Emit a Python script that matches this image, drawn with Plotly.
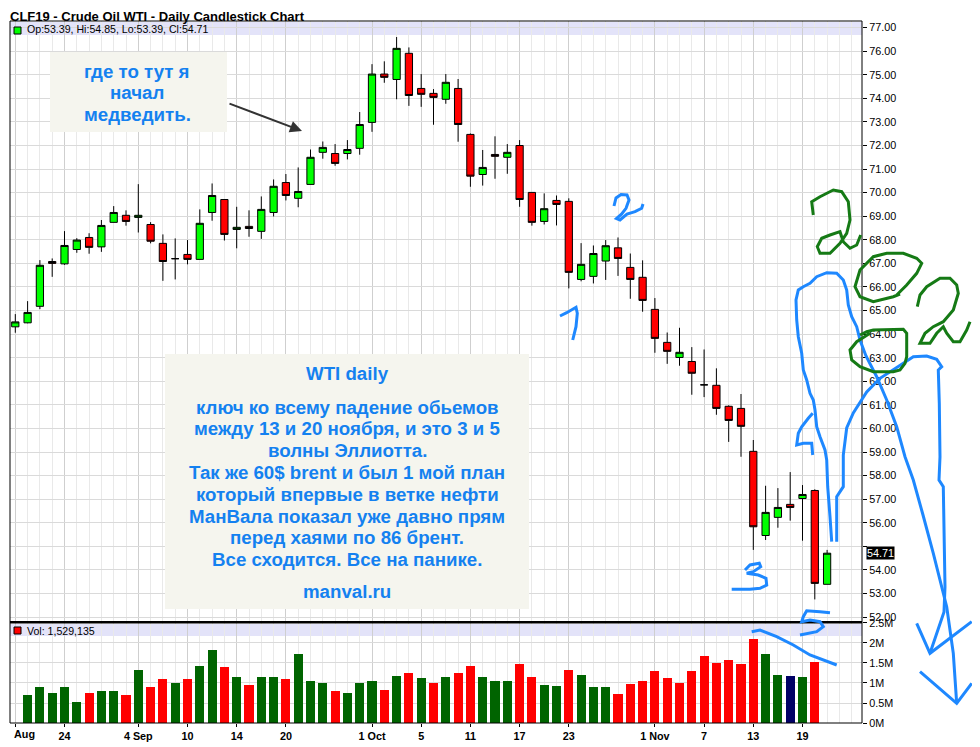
import plotly.graph_objects as go

# ---------------- DATA ----------------
dates = [
    "2018-08-20", "2018-08-21", "2018-08-22", "2018-08-23", "2018-08-24",
    "2018-08-27", "2018-08-28", "2018-08-29", "2018-08-30", "2018-08-31",
    "2018-09-04", "2018-09-05", "2018-09-06", "2018-09-07",
    "2018-09-10", "2018-09-11", "2018-09-12", "2018-09-13", "2018-09-14",
    "2018-09-17", "2018-09-18", "2018-09-19", "2018-09-20", "2018-09-21",
    "2018-09-24", "2018-09-25", "2018-09-26", "2018-09-27", "2018-09-28",
    "2018-10-01", "2018-10-02", "2018-10-03", "2018-10-04", "2018-10-05",
    "2018-10-08", "2018-10-09", "2018-10-10", "2018-10-11", "2018-10-12",
    "2018-10-15", "2018-10-16", "2018-10-17", "2018-10-18", "2018-10-19",
    "2018-10-22", "2018-10-23", "2018-10-24", "2018-10-25", "2018-10-26",
    "2018-10-29", "2018-10-30", "2018-10-31", "2018-11-01", "2018-11-02",
    "2018-11-05", "2018-11-06", "2018-11-07", "2018-11-08", "2018-11-09",
    "2018-11-12", "2018-11-13", "2018-11-14", "2018-11-15", "2018-11-16",
    "2018-11-19", "2018-11-20", "2018-11-21",
]
opens = [64.31, 64.48, 65.18, 67.08, 66.98, 67.59, 68.10, 67.70, 68.74, 69.04,
         68.95, 68.65, 67.85, 67.20, 67.38, 67.17, 69.16, 69.71, 68.44, 68.57,
         68.36, 69.16, 70.43, 69.76, 70.35, 71.71, 71.66, 71.66, 71.88, 72.98,
         75.03, 74.80, 75.91, 74.42, 74.21, 73.96, 74.42, 72.47, 70.77, 71.62,
         71.50, 72.00, 70.01, 68.78, 69.67, 69.63, 66.32, 66.45, 67.10, 67.66,
         66.83, 66.41, 65.05, 63.65, 63.01, 62.84, 61.85, 61.83, 60.94, 60.85,
         59.03, 55.46, 56.23, 56.78, 57.03, 57.37, 53.39]
highs = [64.85, 65.40, 67.14, 67.21, 68.37, 68.07, 68.28, 68.84, 69.43, 69.25,
         70.36, 68.75, 68.23, 68.06, 67.99, 69.29, 70.39, 69.71, 69.40, 69.25,
         69.84, 70.56, 70.79, 71.07, 71.83, 72.17, 72.06, 72.23, 73.42, 75.45,
         75.57, 76.60, 76.16, 75.03, 74.39, 75.03, 74.82, 72.51, 71.81, 72.39,
         72.06, 72.23, 70.01, 69.97, 69.88, 69.76, 67.86, 67.76, 67.99, 68.10,
         67.42, 67.13, 65.53, 64.07, 64.27, 63.45, 63.35, 62.55, 60.98, 61.46,
         59.51, 57.57, 57.47, 58.15, 57.60, 57.42, 54.85]
lows = [64.06, 64.46, 65.06, 66.43, 66.94, 67.45, 67.41, 67.49, 68.74, 68.60,
        68.31, 67.85, 66.26, 66.32, 66.96, 67.17, 68.81, 67.97, 67.64, 68.13,
        68.04, 68.99, 69.67, 69.38, 70.35, 71.44, 71.14, 71.41, 71.61, 72.58,
        74.66, 73.96, 73.68, 73.64, 72.88, 73.77, 72.16, 70.25, 70.30, 70.59,
        70.80, 69.40, 68.60, 68.65, 68.61, 65.94, 66.24, 66.15, 66.30, 66.47,
        65.50, 64.95, 63.21, 62.74, 62.66, 61.43, 61.33, 60.58, 59.43, 58.80,
        54.85, 55.27, 55.79, 56.09, 55.24, 52.75, 53.39]
closes = [64.52, 64.92, 66.92, 67.00, 67.76, 67.99, 67.68, 68.61, 69.16, 68.78,
          69.04, 67.94, 67.08, 67.20, 67.17, 68.70, 69.88, 68.23, 68.53, 68.48,
          69.29, 70.27, 69.88, 70.05, 71.50, 71.92, 71.24, 71.83, 72.89, 75.03,
          74.89, 76.12, 74.12, 74.17, 74.04, 74.68, 72.89, 70.70, 71.07, 71.54,
          71.71, 69.71, 68.74, 69.32, 69.50, 66.62, 66.96, 67.42, 67.75, 67.21,
          66.32, 65.43, 63.82, 63.27, 63.23, 62.34, 61.85, 60.85, 60.34, 60.09,
          55.83, 56.44, 56.65, 56.65, 57.20, 53.43, 54.71]
volumes = [None, 680000, 900000, 750000, 880000, 520000, 730000, 780000, 800000, 700000,
           1320000, 900000, 1080000, 980000, 1100000, 1410000, 1810000, 1380000, 1150000, 930000,
           1130000, 1150000, 1080000, 1710000, 1050000, 980000, 800000, 730000, 1000000, 1030000,
           820000, 1170000, 1250000, 1120000, 1000000, 1150000, 1250000, 1420000, 1150000, 1050000,
           1050000, 1470000, 1150000, 950000, 920000, 1320000, 1200000, 900000, 900000, 720000,
           970000, 1050000, 1300000, 1120000, 1000000, 1300000, 1670000, 1500000, 1570000, 1470000,
           2100000, 1720000, 1200000, 1170000, 1150000, 1529135, None]

tick_dates = ["2018-08-20", "2018-08-24", "2018-09-04", "2018-09-10", "2018-09-14",
              "2018-09-20", "2018-10-01", "2018-10-05", "2018-10-11", "2018-10-17",
              "2018-10-23", "2018-11-01", "2018-11-07", "2018-11-13", "2018-11-19"]
tick_labels = ["Aug", "24", "4 Sep", "10", "14", "20", "1 Oct", "5", "11", "17",
               "23", "1 Nov", "7", "13", "19"]
price_ticks = [52, 53, 54, 55, 56, 57, 58, 59, 60, 61, 62, 63, 64, 65, 66, 67, 68,
               69, 70, 71, 72, 73, 74, 75, 76, 77]
vol_tick_values = [0, 500000, 1000000, 1500000, 2000000, 2500000]
vol_tick_labels = ["0M", "0.5M", "1M", "1.5M", "2M", "2.5M"]

title_text = "CLF19 - Crude Oil WTI - Daily Candlestick Chart"
note1_lines = ["где то тут я", "начал", "медведить."]
note2_head = "WTI daily"
note2_lines = ["ключ ко всему падение обьемов",
               "между 13 и 20 ноября, и это 3 и 5",
               "волны Эллиотта.",
               "Так же 60$ brent и был 1 мой план",
               "который впервые в ветке нефти",
               "МанВала показал уже давно прям",
               "перед хаями по 86 брент.",
               "Все сходится. Все на панике."]
note2_foot = "manval.ru"

# ---------------- LAYOUT GEOMETRY ----------------
BODY = 8                      # default page margin around the figure
X0, Y0, PW, PH = 10, 21, 852, 702   # plot area in page pixels
W, H = 980 - BODY, 747 - BODY
ML, MT = X0 - BODY, Y0 - BODY
MR, MB = W - ML - PW, H - MT - PH
FONT = "Liberation Sans, Arial, sans-serif"


def px(x):
    return (x - X0) / PW


def py(y):
    return 1 - (y - Y0) / PH


split = py(622.3)
xs = list(range(len(dates)))
tickvals = [dates.index(d) for d in tick_dates]
ticktext = ["" if lab == "Aug" else lab for lab in tick_labels]
last_close = closes[-1]
# the last-price tag hides the neighbouring price label, as in the original
price_ticktext = ["" if abs(v - last_close) < 0.5 else f"{v:.2f}" for v in price_ticks]

GREEN_UP = "#00ff00"
RED_DN = "#ff0000"
VOL_UP = "#006400"
VOL_DN = "#ff0000"
VOL_EQ = "#000066"
vol_colors = []
for i, c in enumerate(closes):
    if i == 0 or c > closes[i - 1]:
        vol_colors.append(VOL_UP)
    elif c < closes[i - 1]:
        vol_colors.append(VOL_DN)
    else:
        vol_colors.append(VOL_EQ)

fig = go.Figure()
fig.add_trace(go.Candlestick(
    x=xs, open=opens, high=highs, low=lows, close=closes,
    xaxis="x2", yaxis="y",
    increasing=dict(fillcolor=GREEN_UP, line=dict(color="black", width=1)),
    decreasing=dict(fillcolor=RED_DN, line=dict(color="black", width=1)),
    whiskerwidth=0, hoverinfo="skip", showlegend=False,
))
fig.add_trace(go.Bar(
    x=xs, y=volumes, xaxis="x", yaxis="y2", width=0.74,
    marker=dict(color=vol_colors, line=dict(width=0)),
    hoverinfo="skip", showlegend=False,
))

xr = [(X0 - 15.3) / 12.3, (X0 + PW - 15.3) / 12.3]
common_x = dict(
    range=xr, tickmode="array", tickvals=tickvals, showgrid=True,
    gridcolor="#cfcfcf", gridwidth=1, zeroline=False,
    minor=dict(tickmode="linear", tick0=0, dtick=1, showgrid=True,
               gridcolor="#e9e9e9", gridwidth=1),
    rangeslider=dict(visible=False), fixedrange=True,
)
fig.update_layout(
    width=W, height=H,
    margin=dict(l=ML, r=MR, t=MT, b=MB),
    paper_bgcolor="white", plot_bgcolor="white",
    boxgap=0.16, bargap=0,
    showlegend=False,
    xaxis=dict(anchor="y2", domain=[0, 1], ticktext=ticktext, ticks="outside",
               ticklen=3, tickcolor="black",
               tickfont=dict(family=FONT, size=10.8, color="black", weight="bold"),
               **common_x),
    xaxis2=dict(anchor="y", domain=[0, 1], matches="x", showticklabels=False,
                ticks="", **common_x),
    yaxis=dict(anchor="x2", domain=[split, 1], side="right",
               range=[77 - (622.3 - 27.6) / 23.58, 77 + (27.6 - Y0) / 23.58],
               tickmode="array", tickvals=price_ticks, ticktext=price_ticktext,
               ticks="outside", ticklen=4, tickcolor="black",
               tickfont=dict(family=FONT, size=10.8, color="black"),
               showgrid=True, gridcolor="#dadada", zeroline=False, fixedrange=True),
    yaxis2=dict(anchor="x", domain=[0, split], side="right",
                range=[0, 2517000], tickmode="array", tickvals=vol_tick_values,
                ticktext=vol_tick_labels, ticks="outside", ticklen=4, tickcolor="black",
                tickfont=dict(family=FONT, size=10.8, color="black"),
                showgrid=True, gridcolor="#dadada", zeroline=False, fixedrange=True),
)

shapes = []
# header bands
shapes.append(dict(type="rect", xref="paper", yref="paper", x0=0, x1=px(862),
                   y0=py(35), y1=py(22), fillcolor="#e3e3f9", line=dict(width=0), layer="below"))
shapes.append(dict(type="rect", xref="paper", yref="paper", x0=0, x1=px(862),
                   y0=py(636), y1=py(624), fillcolor="#e3e3f9", line=dict(width=0), layer="below"))
# legend squares
shapes.append(dict(type="rect", xref="paper", yref="paper", x0=px(14), x1=px(21),
                   y0=py(34), y1=py(27), fillcolor=GREEN_UP, line=dict(color="black", width=1)))
shapes.append(dict(type="rect", xref="paper", yref="paper", x0=px(14), x1=px(21),
                   y0=py(634), y1=py(627), fillcolor=RED_DN, line=dict(color="black", width=1)))
# frame
shapes.append(dict(type="rect", xref="paper", yref="paper", x0=0, x1=1, y0=0, y1=1,
                   line=dict(color="black", width=1)))
shapes.append(dict(type="line", xref="paper", yref="paper", x0=0, x1=1, y0=split, y1=split,
                   line=dict(color="black", width=2.5)))
# note boxes
shapes.append(dict(type="rect", xref="paper", yref="paper", x0=px(50), x1=px(227),
                   y0=py(132), y1=py(52), fillcolor="#f5f5ee", line=dict(width=0)))
shapes.append(dict(type="rect", xref="paper", yref="paper", x0=px(165), x1=px(529),
                   y0=py(609), y1=py(354), fillcolor="#f5f5ee", line=dict(width=0)))

# hand-drawn marks (decorations, page pixels)
blue_marks = [
    [(560, 316), (566.7, 312.7), (576, 307.3), (577.3, 313.3), (576, 326.7), (572.7, 340)],
    [(614, 206), (616, 198), (621, 194.5), (627, 195), (629, 200), (626, 208.3), (621.7, 214),
     (616.5, 218.5), (620, 220), (627, 214), (635, 211.7), (641.7, 208.3), (643, 204)],
    [(745, 570), (750, 565), (759.3, 563.3), (760.7, 566.7), (753.3, 571.7), (746.7, 573.3),
     (758.3, 575), (766, 578.3), (766.7, 585), (760, 588.3), (750, 589.3), (731.7, 589.3)],
    [(830, 612.7), (820, 611.7), (806.7, 610.7), (803.3, 616.7), (801.7, 621.7), (810, 620),
     (820, 621.7), (823.3, 626.7), (816.7, 631.7), (800, 635)],
    [(751.7, 631.7), (760, 630), (776.7, 636.7), (793.3, 645), (810, 655), (836.7, 665)],
    [(812.7, 413.3), (808.3, 418.3), (801.7, 426.7), (798.3, 433.3), (796.7, 445), (803.3, 443.3),
     (811.7, 443.3), (812.7, 455)],
    [(831.7, 541.7), (830, 516.7), (827.7, 486.7), (826.7, 460), (825, 450), (820, 436.7),
     (816.7, 426.7), (815, 410), (813.3, 400), (810, 393.3), (806.7, 380), (803.3, 370),
     (801.7, 353.3), (798.3, 336.7), (796.7, 320), (796, 300), (798.3, 290), (803.3, 286.7),
     (810, 283.3), (816.7, 276.7), (826.7, 272.7), (836.7, 273.3), (843.3, 280), (846.7, 290),
     (848.3, 305), (851.7, 316.7), (856.7, 326.7), (860, 340), (866, 356), (876.7, 376.7),
     (886.7, 400), (896.7, 426.7), (905, 456.7), (913.3, 480), (923, 515), (933.3, 553.3),
     (946.7, 606.7), (953.3, 653.3), (956.7, 703.3)],
    [(920, 671.7), (956.7, 703.3), (971.7, 683.3)],
    [(836.7, 541.7), (836.7, 496.7), (843.3, 486.7), (843.3, 455), (846.7, 428), (853.3, 413),
     (866.7, 392), (880, 378.3), (903.3, 363.3), (913.3, 356.7), (926.7, 356), (936.7, 359.3),
     (941.7, 366.7), (938.3, 370), (939.3, 403.3), (940, 456.7), (939, 480), (943.3, 486.7),
     (945, 586.7), (944, 612), (930, 653.3)],
    [(916.7, 623.3), (930, 653.3), (971.7, 621.7)],
]
green_marks = [
    [(813.3, 215), (811.7, 201.7), (820, 196.7), (833.3, 190), (841.7, 191.7), (848.3, 201.7),
     (850, 220), (846.7, 233.3), (840, 243.3), (830, 253.3), (820, 253.3), (817.3, 246.7),
     (821.7, 238.3), (830, 235), (840, 231.7), (843.3, 241.7), (850, 248.3), (856.7, 245),
     (860.7, 235)],
    [(900, 294), (893.3, 296.7), (873.3, 301.7), (860, 296.7), (855, 286.7), (860, 270),
     (873.3, 256.7), (886.7, 253.3), (903.3, 253.3), (916.7, 258.3), (921.7, 263.3),
     (916.7, 273.3), (906.7, 285), (896.7, 295)],
    [(917.3, 306.7), (920, 295), (926.7, 286.7), (940, 278.3), (950, 278.3), (956.7, 285),
     (958.3, 293.3), (953.3, 310), (943.3, 321.7), (933.3, 326.7), (925, 333.3), (920, 343.3),
     (930, 343.3), (936.7, 333.3), (943.3, 326.7), (946.7, 333.3), (953.3, 341.7), (960, 341.7),
     (966.7, 330), (970, 321.7)],
    [(860, 335), (866.7, 331.7), (873.3, 330), (903.3, 329.3), (906.7, 333.3), (906.7, 356.7),
     (905, 363.3), (900, 370), (893.3, 371.7), (873.3, 371.7), (860, 366.7), (851.7, 360),
     (850, 350), (856.7, 341.7), (870, 333.3)],
]


def svg_path(pts):
    return "M " + " L ".join(f"{px(x):.5f},{py(y):.5f}" for x, y in pts)


for pts in blue_marks:
    shapes.append(dict(type="path", xref="paper", yref="paper", path=svg_path(pts),
                       line=dict(color="#1e88ff", width=3)))
for pts in green_marks:
    shapes.append(dict(type="path", xref="paper", yref="paper", path=svg_path(pts),
                       line=dict(color="#157a15", width=3)))

annotations = []
# title (top of its text box at the top of the figure)
annotations.append(dict(xref="paper", yref="paper", x=px(9), y=py(BODY + 0.3), xanchor="left",
                        yanchor="top", text=f"<b>{title_text}</b>", showarrow=False,
                        borderpad=0, font=dict(family=FONT, size=13, color="black")))
# header texts
annotations.append(dict(xref="paper", yref="paper", x=px(25), y=py(28.7), xanchor="left",
                        yanchor="middle", showarrow=False,
                        text=f"Op:{opens[-1]:.2f}, Hi:{highs[-1]:.2f}, Lo:{lows[-1]:.2f}, Cl:{closes[-1]:.2f}",
                        font=dict(family=FONT, size=10.6, color="black")))
last_vol = [v for v in volumes if v is not None][-1]
annotations.append(dict(xref="paper", yref="paper", x=px(25), y=py(630.5), xanchor="left",
                        yanchor="middle", showarrow=False, text=f"Vol: {last_vol:,}",
                        font=dict(family=FONT, size=10.6, color="black")))
# first x label shifted inside
annotations.append(dict(xref="paper", yref="paper", x=px(12), y=py(733.5), xanchor="left",
                        yanchor="middle", showarrow=False, text="<b>Aug</b>",
                        font=dict(family=FONT, size=10.8, color="black")))
# last price tag
annotations.append(dict(xref="paper", yref="y", x=1, y=last_close, xanchor="left", xshift=4,
                        yanchor="middle", showarrow=False, text=f"{last_close:.2f}",
                        bgcolor="black", borderpad=0,
                        font=dict(family=FONT, size=10.8, color="white")))
# notes
BLUE_TXT = "#1481f0"
for line, yy in zip(note1_lines, [71, 93, 114.5]):
    annotations.append(dict(xref="paper", yref="paper", x=px(137), y=py(yy), xanchor="center",
                            yanchor="middle", showarrow=False, text=f"<b>{line}</b>",
                            font=dict(family=FONT, size=18.7, color=BLUE_TXT)))
annotations.append(dict(xref="paper", yref="paper", x=px(347), y=py(373.5), showarrow=False,
                        yanchor="middle", text=f"<b>{note2_head}</b>",
                        font=dict(family=FONT, size=18.7, color=BLUE_TXT)))
for i, line in enumerate(note2_lines):
    annotations.append(dict(xref="paper", yref="paper", x=px(347), y=py(407 + 21.8 * i),
                            showarrow=False, yanchor="middle", text=f"<b>{line}</b>",
                            font=dict(family=FONT, size=18.7, color=BLUE_TXT)))
annotations.append(dict(xref="paper", yref="paper", x=px(347), y=py(591.7), showarrow=False,
                        yanchor="middle", text=f"<b>{note2_foot}</b>",
                        font=dict(family=FONT, size=18.7, color=BLUE_TXT)))
# arrow
annotations.append(dict(xref="paper", yref="paper", x=px(302), y=py(131), ax=-74, ay=-28,
                        text="", showarrow=True, arrowhead=2, arrowsize=1.2, arrowwidth=2,
                        arrowcolor="#333333"))

fig.update_layout(shapes=shapes, annotations=annotations)
fig.write_html("out.html")
